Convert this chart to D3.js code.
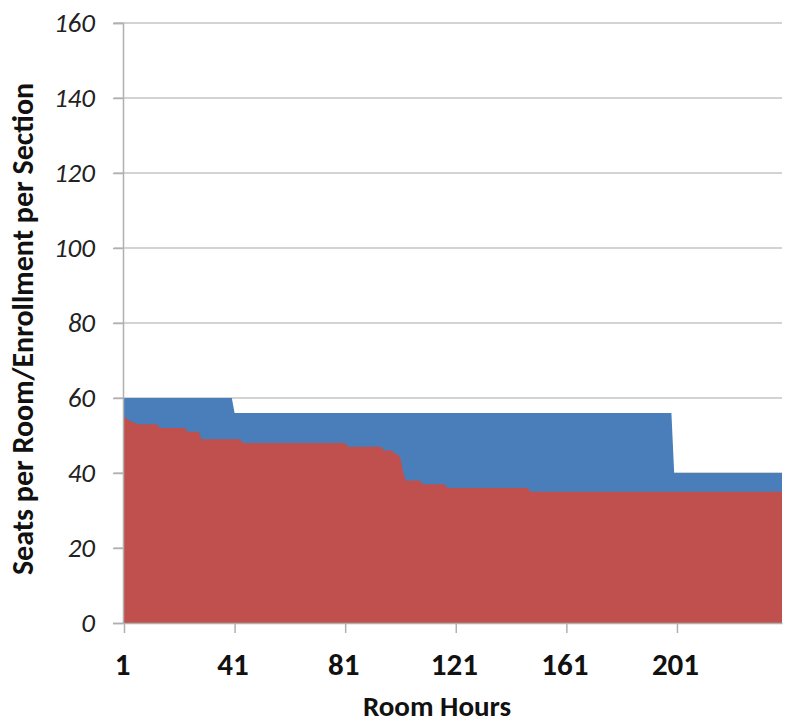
<!DOCTYPE html>
<html>
<head>
<meta charset="utf-8">
<script src="https://cdn.jsdelivr.net/npm/d3@7"></script>
<style>
  body { margin: 0; background: #fff; }
  svg text { font-family: Carlito, Calibri, "Open Sans", sans-serif; }
</style>
</head>
<body>
<div id="chart"></div>
<script>
// Step runs: [first room hour, last room hour, value]
const seatRuns = [
  [1, 40, 60],
  [41, 199, 56],
  [200, 239, 40],
];
const enrollRuns = [
  [1, 1, 55], [2, 2, 54.5], [3, 3, 54], [4, 5, 53.5], [6, 13, 53],
  [14, 23, 52], [24, 28, 51], [29, 43, 49], [44, 81, 48], [82, 94, 47],
  [95, 98, 46], [99, 100, 45], [101, 101, 44], [102, 102, 40],
  [103, 108, 38], [109, 117, 37], [118, 147, 36], [148, 239, 35],
];
const xTicks = [1, 41, 81, 121, 161, 201];
const yTicks = [0, 20, 40, 60, 80, 100, 120, 140, 160];

function expand(runs) {
  const out = [];
  for (const [a, b, v] of runs) for (let h = a; h <= b; h++) out.push({ hour: h, value: v });
  return out;
}
const seats = expand(seatRuns);
const enroll = expand(enrollRuns);

const width = 792, height = 726;
const plot = { left: 124, right: 782, top: 23, bottom: 623 };

const x = d3.scaleLinear().domain([1, 239]).range([plot.left, plot.right]);
const y = d3.scaleLinear().domain([0, 160]).range([plot.bottom, plot.top]);

const svg = d3.select('#chart').append('svg')
  .attr('width', width).attr('height', height);

// gridlines
svg.append('g')
  .selectAll('line')
  .data(yTicks.filter(d => d > 0))
  .join('line')
  .attr('x1', plot.left - 10).attr('x2', plot.right)
  .attr('y1', d => y(d)).attr('y2', d => y(d))
  .attr('stroke', '#c4c4c4').attr('stroke-width', 1.5);

const area = d3.area()
  .x(d => x(d.hour))
  .y0(y(0))
  .y1(d => y(d.value));

svg.append('path').datum(seats).attr('d', area).attr('fill', '#4a7ebb');
svg.append('path').datum(enroll).attr('d', area).attr('fill', '#c0504d');

// y axis
const yAxis = svg.append('g')
  .attr('transform', `translate(${plot.left - 1},0)`)
  .call(d3.axisLeft(y).tickValues(yTicks).tickSize(10).tickPadding(18));
yAxis.select('.domain').attr('stroke', '#b0b0b0').attr('stroke-width', 1.5);
yAxis.selectAll('.tick line').attr('stroke', '#b0b0b0').attr('stroke-width', 1.5);
yAxis.selectAll('.tick text')
  .attr('fill', '#222').style('font-size', '27px').style('font-style', 'italic');

// x axis
const xAxis = svg.append('g')
  .attr('transform', `translate(0,${plot.bottom})`)
  .call(d3.axisBottom(x).tickValues(xTicks).tickSize(10).tickPadding(20).tickSizeOuter(0));
xAxis.select('.domain').attr('stroke', '#b0b0b0').attr('stroke-width', 1.5);
xAxis.selectAll('.tick line').attr('stroke', '#b0b0b0').attr('stroke-width', 1.5);
xAxis.selectAll('.tick text')
  .attr('fill', '#111').style('font-size', '31px').style('font-weight', 'bold')
  .attr('dx', -2);

// axis titles
svg.append('text')
  .attr('x', 437).attr('y', 716)
  .attr('text-anchor', 'middle')
  .style('font-size', '29px').style('font-weight', 'bold').attr('fill', '#111')
  .text('Room Hours');

svg.append('text')
  .attr('transform', 'translate(33,329) rotate(-90)')
  .attr('text-anchor', 'middle')
  .style('font-size', '30px').style('font-weight', 'bold').attr('fill', '#111')
  .text('Seats per Room/Enrollment  per Section');
</script>
</body>
</html>
